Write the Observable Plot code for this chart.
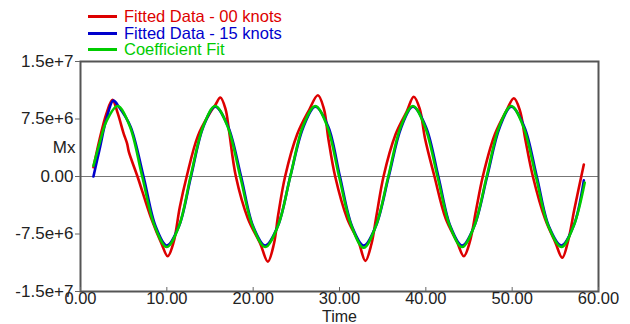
<!DOCTYPE html>
<html><head><meta charset="utf-8">
<script src="https://cdn.jsdelivr.net/npm/d3@7"></script>
<script src="https://cdn.jsdelivr.net/npm/@observablehq/plot@0.6"></script>
<style>
body{margin:0;background:#fff;font-family:"Liberation Sans",Arial,sans-serif;}
#wrap{position:relative;width:630px;height:324px;}
#legend{position:absolute;left:88px;top:8px;font-size:16.5px;}
.row{display:flex;align-items:center;height:16.8px;line-height:15px;white-space:nowrap}
.sw{width:29px;height:3px;margin-right:7px}
#chart{position:absolute;left:0;top:0}
</style></head><body>
<div id="wrap"><div id="chart"></div><div id="legend"></div></div>
<script>
const seriesNames = ["Fitted Data - 00 knots", "Fitted Data - 15 knots", "Coefficient Fit"];
const seriesColors = ["#dd0000", "#0000cc", "#00cc00"];

const xTicks = [0, 10, 20, 30, 40, 50, 60];
const yTicks = [-1.5e7, -7.5e6, 0, 7.5e6, 1.5e7];
const yTickLabels = ["-1.5e+7", "-7.5e+6", "0.00", "7.5e+6", "1.5e+7"];

// Fitted Data - 00 knots (time, Mx)
const redData = [
  [1.5, 1.2e6], [2.2, 4.8e6], [3.0, 8.2e6], [3.7, 1.0e7], [4.3, 8.3e6], [5.0, 5.6e6],
  [5.4, 4.3e6], [5.6, 3.2e6], [6.6, 0], [8.2, -5.5e6], [9.4, -8.8e6], [10.1, -1.04e7],
  [10.8, -8.5e6], [11.5, -4.0e6], [12.3, 0], [13.6, 5.3e6], [15.0, 8.3e6], [15.6, 9.3e6],
  [16.2, 1.03e7], [16.8, 8.8e6], [17.2, 6.0e6], [18.0, 0], [19.4, -5.5e6], [20.8, -8.7e6],
  [21.7, -1.11e7], [22.4, -8.8e6], [22.9, -5.0e6], [23.7, 0], [25.1, 5.5e6], [26.4, 8.5e6],
  [27.5, 1.06e7], [28.2, 8.8e6], [28.7, 5.0e6], [29.5, 0], [30.9, -5.5e6], [32.2, -8.5e6],
  [33.0, -1.10e7], [33.7, -8.8e6], [34.3, -5.0e6], [35.1, 0], [36.5, 5.5e6], [37.8, 8.5e6],
  [38.6, 1.04e7], [39.3, 8.8e6], [39.9, 5.0e6], [41.0, 0], [42.3, -5.5e6], [43.6, -8.5e6],
  [44.4, -1.04e7], [45.1, -8.5e6], [45.8, -4.5e6], [46.6, 0], [48.0, 5.5e6], [49.3, 8.5e6],
  [50.2, 1.02e7], [50.9, 8.6e6], [51.5, 5.0e6], [52.4, 0], [53.8, -5.5e6], [55.0, -8.6e6],
  [55.8, -1.06e7], [56.5, -8.3e6], [57.2, -4.3e6], [58.3, 1.57e6]
];

// Fitted Data - 15 knots
const blueData = [
  [1.5, 0], [2.2, 3.5e6], [3.0, 7.5e6], [3.8, 9.9e6], [4.5, 9.0e6], [5.8, 6.5e6],
  [7.3, 0], [8.7, -6.5e6], [10.0, -9.0e6], [11.4, -6.5e6], [12.8, 0], [14.2, 6.4e6],
  [15.6, 9.1e6], [17.1, 6.5e6], [18.6, 0], [20.0, -6.5e6], [21.4, -9.0e6], [22.85, -6.5e6],
  [24.3, 0], [25.8, 6.4e6], [27.2, 9.1e6], [28.7, 6.5e6], [30.05, 0], [31.45, -6.5e6],
  [32.8, -9.0e6], [34.2, -6.5e6], [35.7, 0], [37.15, 6.4e6], [38.5, 9.1e6], [40.0, 6.5e6],
  [41.45, 0], [42.85, -6.5e6], [44.2, -9.0e6], [45.6, -6.5e6], [47.1, 0], [48.55, 6.4e6],
  [49.9, 9.1e6], [51.4, 6.5e6], [52.85, 0], [54.25, -6.5e6], [55.7, -9.0e6], [57.1, -6.5e6],
  [58.3, -0.5e6]
];

// Coefficient Fit
const greenData = [
  [1.5, 1.4e6], [2.2, 4.3e6], [3.0, 7.2e6], [4.3, 9.2e6], [5.7, 6.6e6], [7.15, 0],
  [8.6, -6.5e6], [10.0, -9.2e6], [11.4, -6.5e6], [12.75, 0], [14.2, 6.5e6], [15.6, 9.2e6],
  [17.05, 6.5e6], [18.5, 0], [19.95, -6.5e6], [21.4, -9.2e6], [22.85, -6.5e6], [24.3, 0],
  [25.75, 6.5e6], [27.2, 9.2e6], [28.6, 6.5e6], [29.95, 0], [31.4, -6.5e6], [32.8, -9.3e6],
  [34.2, -6.5e6], [35.65, 0], [37.1, 6.5e6], [38.5, 9.2e6], [39.9, 6.5e6], [41.35, 0],
  [42.8, -6.5e6], [44.2, -9.2e6], [45.6, -6.5e6], [47.05, 0], [48.5, 6.5e6], [49.9, 9.2e6],
  [51.3, 6.5e6], [52.75, 0], [54.2, -6.5e6], [55.7, -9.2e6], [57.1, -6.5e6], [58.4, -0.8e6]
];

const allSeries = [redData, blueData, greenData];

const lineMarks = allSeries.map((data, i) =>
  Plot.line(data, {x: d => d[0], y: d => d[1], stroke: seriesColors[i], strokeWidth: 2.6, curve: "catmull-rom"})
);

const chart = Plot.plot({
  width: 630,
  height: 324,
  marginLeft: 80,
  marginRight: 32,
  marginTop: 61,
  marginBottom: 33,
  style: {fontFamily: "'Liberation Sans', Arial, sans-serif", background: "transparent"},
  x: {domain: [0, 60]},
  y: {domain: [-1.5e7, 1.5e7]},
  marks: [
    Plot.ruleY([0], {stroke: "#777", strokeWidth: 1}),
    ...lineMarks,
    Plot.frame({stroke: "#555", strokeWidth: 2}),
    Plot.axisY(yTicks, {tickSize: 5, tickPadding: 2, fontSize: 17, fill: "#222", stroke: "#666",
      tickFormat: d => yTickLabels[yTicks.indexOf(d)], label: null}),
    Plot.axisX(xTicks, {tickSize: -4, tickPadding: 5, fontSize: 16.5, fill: "#222", stroke: "#666",
      tickFormat: d => d.toFixed(2), label: null}),
    Plot.text(["Mx"], {frameAnchor: "left", dx: -5, dy: -29, textAnchor: "end", fontSize: 17, fill: "#222"}),
    Plot.text(["Time"], {frameAnchor: "bottom", dy: 25, fontSize: 16, fill: "#222", lineAnchor: "middle"})
  ]
});
document.getElementById("chart").appendChild(chart);

const legend = document.getElementById("legend");
seriesNames.forEach((name, i) => {
  const row = document.createElement("div");
  row.className = "row";
  const sw = document.createElement("div");
  sw.className = "sw";
  sw.style.background = seriesColors[i];
  const label = document.createElement("span");
  label.textContent = name;
  label.style.color = seriesColors[i];
  row.appendChild(sw);
  row.appendChild(label);
  legend.appendChild(row);
});
</script>
</body></html>
